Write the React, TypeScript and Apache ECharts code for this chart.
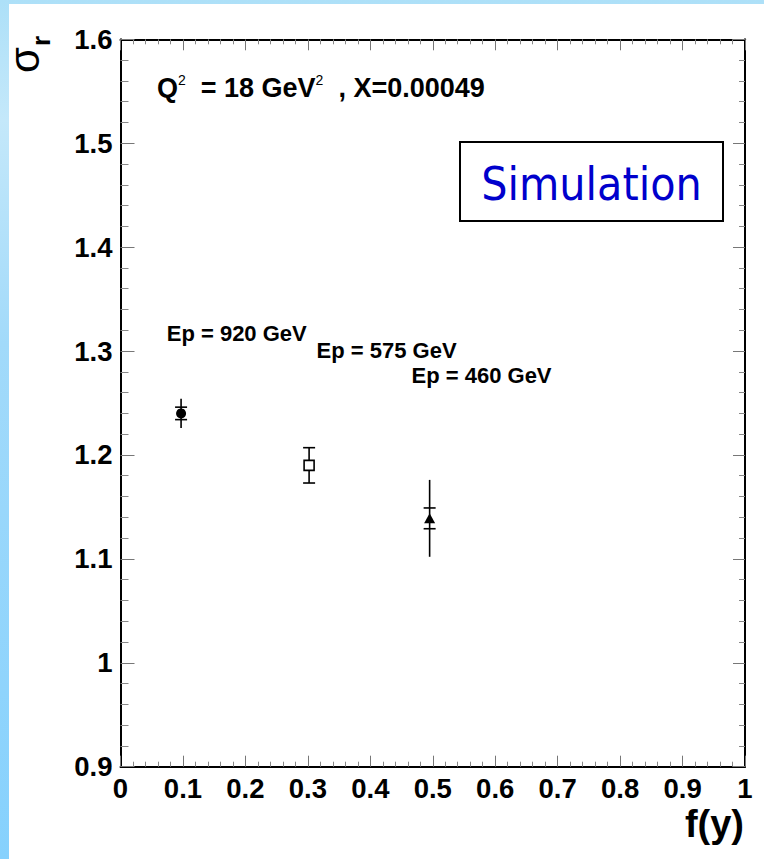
import React, { useEffect, useRef } from "react";
import * as echarts from "echarts";

// Reduced cross section sigma_r versus f(y) for three proton beam energies
const fY = [0.097, 0.302, 0.495];
const sigmaR = [1.24, 1.19, 1.139];
const statErr = [0.006, 0.017, 0.01];
const totalErr = [0.014, 0.017, 0.037];
const markerSymbols = ["circle", "rect", "triangle"];
const markerFill = ["#000", "#fff", "#000"];

// Beam-energy annotations, anchored at their baseline start (data coordinates)
const beamLabels = ["Ep = 920 GeV", "Ep = 575 GeV", "Ep = 460 GeV"];
const beamLabelX = [0.074, 0.314, 0.466];
const beamLabelY = [1.31, 1.293, 1.269];

const xMin = 0;
const xMax = 1;
const yMin = 0.9;
const yMax = 1.6;
const tickStep = 0.1;

const FONT = '"Liberation Sans", Arial, Helvetica, sans-serif';

const fmt = (v: number) => String(Math.round(v * 10) / 10);

function frameAxis(position: string, showLabel: boolean, majorLen: number, minorLen: number, isX: boolean) {
  return {
    type: "value",
    position,
    min: isX ? xMin : yMin,
    max: isX ? xMax : yMax,
    interval: tickStep,
    axisLine: { show: true, onZero: false, lineStyle: { color: "#000", width: 2 } },
    axisTick: { show: true, inside: true, length: majorLen, lineStyle: { color: "#777", width: 1 } },
    minorTick: { show: true, splitNumber: 5, length: minorLen, lineStyle: { color: "#888", width: 1 } },
    splitLine: { show: false },
    minorSplitLine: { show: false },
    axisLabel: {
      show: showLabel,
      formatter: fmt,
      color: "#000",
      fontFamily: FONT,
      fontWeight: "bold",
      fontSize: 27.5,
      margin: 8,
    },
  };
}

export default function App() {
  const ref = useRef<HTMLDivElement>(null);

  useEffect(() => {
    if (!ref.current) return;
    const chart = echarts.init(ref.current, null, { renderer: "svg" });

    const errData = fY.map((x, i) => [x, sigmaR[i], statErr[i], totalErr[i]]);

    const markerSeries = fY.map((x, i) => ({
      type: "scatter",
      name: beamLabels[i],
      data: [[x, sigmaR[i]]],
      symbol: markerSymbols[i],
      symbolSize: i === 2 ? [11, 10] : 10,
      itemStyle: {
        color: markerFill[i],
        borderColor: "#000",
        borderWidth: i === 1 ? 1.6 : 0,
        opacity: 1,
      },
      z: 5,
    }));

    const option = {
      animation: false,
      backgroundColor: "transparent",
      grid: { left: 120.5, right: 19, top: 39.3, bottom: 92.3 },
      xAxis: [
        frameAxis("bottom", true, 11, 5, true),
        frameAxis("top", false, 11, 5, true),
      ],
      yAxis: [
        frameAxis("left", true, 14, 8, false),
        frameAxis("right", false, 12, 6, false),
      ],
      series: [
        {
          type: "custom",
          name: "errors",
          data: errData,
          z: 3,
          renderItem: (params: any, api: any) => {
            const x = api.value(0);
            const y = api.value(1);
            const s = api.value(2);
            const t = api.value(3);
            const top = api.coord([x, y + t]);
            const bot = api.coord([x, y - t]);
            const sTop = api.coord([x, y + s]);
            const sBot = api.coord([x, y - s]);
            const half = 6;
            const st = { stroke: "#000", lineWidth: 1.6 };
            return {
              type: "group",
              children: [
                { type: "line", shape: { x1: top[0], y1: top[1], x2: bot[0], y2: bot[1] }, style: st },
                { type: "line", shape: { x1: sTop[0] - half, y1: sTop[1], x2: sTop[0] + half, y2: sTop[1] }, style: st },
                { type: "line", shape: { x1: sBot[0] - half, y1: sBot[1], x2: sBot[0] + half, y2: sBot[1] }, style: st },
              ],
            };
          },
        },
        ...markerSeries,
        {
          type: "scatter",
          name: "annotations",
          data: beamLabelX.map((x, i) => [x, beamLabelY[i]]),
          symbolSize: 0,
          silent: true,
          itemStyle: { opacity: 1 },
          label: {
            show: true,
            position: "inside",
            align: "left",
            verticalAlign: "middle",
            offset: [0, -7.6],
            formatter: (p: any) => beamLabels[p.dataIndex],
            color: "#000",
            opacity: 1,
            fontFamily: FONT,
            fontWeight: "bold",
            fontSize: 22,
            lineHeight: 15,
          },
          z: 6,
        },
      ],
      graphic: [
        // kinematic bin title
        {
          type: "text",
          x: 157,
          y: 88,
          style: {
            text: "{b|Q}{s|2}{b|  = 18 GeV}{s|2}{b|  , X=0.00049}",
            textVerticalAlign: "middle",
            textAlign: "left",
            rich: {
              b: { fontFamily: FONT, fontWeight: "bold", fontSize: 27, fill: "#000", lineHeight: 30 },
              s: { fontFamily: FONT, fontSize: 14, fill: "#000", verticalAlign: "top", lineHeight: 30 },
            },
          },
        },
        // boxed "Simulation" tag
        {
          type: "group",
          x: 460,
          y: 142,
          children: [
            {
              type: "rect",
              shape: { x: 0, y: 0, width: 263, height: 79 },
              style: { fill: "#fff", stroke: "#000", lineWidth: 2 },
            },
            {
              type: "text",
              x: 131.5,
              y: 42,
              style: {
                text: "Simulation",
                textAlign: "center",
                textVerticalAlign: "middle",
                font: '46px "DejaVu Sans Condensed", "DejaVu Sans", sans-serif',
                fill: "#0000cc",
              },
            },
          ],
        },
        // y-axis title sigma_r
        {
          type: "text",
          x: 24.4,
          y: 73,
          rotation: Math.PI / 2,
          style: { text: "σ", textAlign: "left", textVerticalAlign: "middle", font: '42px "Liberation Sans", Arial, sans-serif', fill: "#000" },
        },
        {
          type: "text",
          x: 41,
          y: 46,
          rotation: Math.PI / 2,
          style: { text: "r", textAlign: "left", textVerticalAlign: "middle", font: 'bold 26px "Liberation Sans", Arial, sans-serif', fill: "#000" },
        },
        // x-axis title
        {
          type: "text",
          x: 744,
          y: 824,
          style: { text: "f(y)", textAlign: "right", textVerticalAlign: "middle", font: 'bold 38px "Liberation Sans", Arial, sans-serif', fill: "#000" },
        },
      ],
    };

    chart.setOption(option as any);
    return () => chart.dispose();
  }, []);

  return (
    <div
      style={{
        position: "absolute",
        left: 0,
        top: 0,
        width: 764,
        height: 859,
        overflow: "hidden",
        background: "linear-gradient(to bottom, #ade0f8 0%, #c4e8fa 14%, #a2dafa 40%, #86d1fd 100%)",
      }}
    >
      <div style={{ position: "absolute", left: 8.5, top: 3.5, right: 0, bottom: 0, background: "#fff" }} />
      <div ref={ref} style={{ position: "absolute", left: 0, top: 0, width: 764, height: 859 }} />
    </div>
  );
}
